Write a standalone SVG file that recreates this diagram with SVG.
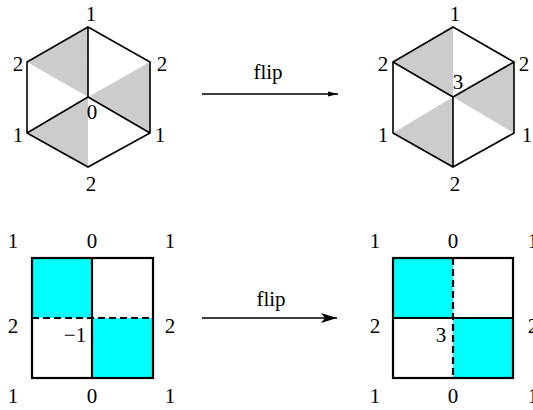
<svg xmlns="http://www.w3.org/2000/svg" width="533" height="410" viewBox="0 0 533 410" font-family="'Liberation Serif', 'Times New Roman', serif">
<defs>
<style>
text{font-family:'Liberation Serif','Times New Roman',serif;font-size:21px;fill:#000;text-anchor:middle}
.ln{stroke:#000;stroke-width:1.6;fill:none}
.sq{stroke:#000;stroke-width:2.2;fill:none}
.dash{stroke:#000;stroke-width:2.2;stroke-dasharray:7,4;fill:none}
.gray{fill:#cccccc}
.cyan{fill:#00ffff}
</style>
<marker id="ahS" markerWidth="10" markerHeight="6" refX="10" refY="3" orient="auto" markerUnits="userSpaceOnUse"><path d="M0,0.5 L10,3 L0,5.5 Z" fill="#000"/></marker>
<marker id="ahL" markerWidth="16" markerHeight="10" refX="16" refY="5" orient="auto" markerUnits="userSpaceOnUse"><path d="M0,0 L16,5 L0,10 L4,5 Z" fill="#000"/></marker>
</defs>
<g id="hexLeft">
<path class="gray" d="M88,27 L27,62 L88,97 Z M88,97 L150,62 L150,133 Z M88,97 L27,133 L88,167 Z"/>
<path class="ln" d="M88,27 L150,62 L150,133 L88,167 L27,133 L27,62 Z M88,97 L88,27 M88,97 L27,133 M88,97 L150,133"/>
<text x="91" y="21">1</text>
<text x="18" y="71">2</text>
<text x="162" y="71">2</text>
<text x="18" y="142">1</text>
<text x="160" y="142">1</text>
<text x="91" y="191">2</text>
<text x="92" y="119">0</text>
</g>
<g id="hexRight">
<path class="gray" d="M453,27 L393,62 L453,97 Z M453,97 L514,62 L514,133 Z M453,97 L393,133 L453,167 Z"/>
<path class="ln" d="M453,27 L514,62 L514,133 L453,167 L393,133 L393,62 Z M453,97 L393,62 M453,97 L514,62 M453,97 L453,167"/>
<text x="455" y="21">1</text>
<text x="383" y="71">2</text>
<text x="524" y="71">2</text>
<text x="458" y="89">3</text>
<text x="383" y="142">1</text>
<text x="527" y="142">1</text>
<text x="455" y="191">2</text>
</g>
<g id="sqLeft">
<rect class="cyan" x="32" y="258" width="60" height="60"/>
<rect class="cyan" x="92" y="318" width="61" height="60"/>
<rect class="sq" x="32" y="258" width="121" height="120"/>
<line class="sq" x1="92" y1="258" x2="92" y2="378"/>
<line class="dash" x1="32" y1="318" x2="153" y2="318"/>
<text x="13" y="248">1</text>
<text x="92" y="248">0</text>
<text x="170" y="248">1</text>
<text x="13" y="333">2</text>
<text x="170" y="333">2</text>
<text x="75" y="342">−1</text>
<text x="13" y="403">1</text>
<text x="92" y="403">0</text>
<text x="170" y="403">1</text>
</g>
<g id="sqRight">
<rect class="cyan" x="393" y="258" width="60" height="60"/>
<rect class="cyan" x="453" y="318" width="60" height="60"/>
<rect class="sq" x="393" y="258" width="120" height="120"/>
<line class="sq" x1="393" y1="318" x2="513" y2="318"/>
<line class="dash" x1="453" y1="258" x2="453" y2="378"/>
<text x="375" y="248">1</text>
<text x="453" y="248">0</text>
<text x="533" y="248">1</text>
<text x="375" y="333">2</text>
<text x="533" y="333">2</text>
<text x="441" y="342">3</text>
<text x="375" y="403">1</text>
<text x="453" y="403">0</text>
<text x="533" y="403">1</text>
</g>
<g id="connectors">
<line class="ln" x1="202" y1="94" x2="338" y2="94" marker-end="url(#ahS)" stroke-width="1.2"/>
<text x="268" y="79" font-size="22">flip</text>
<line class="ln" x1="202" y1="318" x2="337" y2="318" marker-end="url(#ahL)" stroke-width="1.2"/>
<text x="271" y="306" font-size="22">flip</text>
</g>
</svg>
